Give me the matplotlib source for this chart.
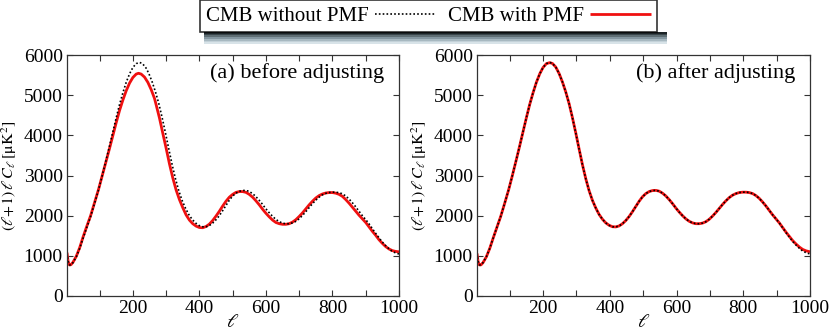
"""
CMB TT spectrum with / without PMF, before and after adjusting
"""

import matplotlib
matplotlib.use('Agg')
import matplotlib.pyplot as plt
from matplotlib.patches import Rectangle
from matplotlib.ticker import MultipleLocator

plt.rcParams['font.family'] = ['Liberation Serif', 'DejaVu Serif']
plt.rcParams['mathtext.fontset'] = 'stix'

# CMB without PMF (black dotted, same in both panels)
ell_no_pmf = [2, 5, 8, 10, 14, 20, 30, 40, 50, 60, 73, 85, 97, 108, 120, 130, 140,
              150, 160, 170, 180, 190, 200, 210, 220, 228, 238, 248, 258, 268, 278,
              288, 298, 308, 318, 328, 338, 348, 358, 368, 378, 388, 398, 408, 418,
              428, 438, 448, 458, 468, 478, 488, 498, 508, 518, 528, 538, 548, 558,
              568, 578, 588, 598, 608, 618, 628, 638, 648, 658, 668, 678, 688, 698,
              708, 718, 728, 738, 748, 758, 768, 778, 788, 798, 808, 818, 828, 838,
              848, 858, 868, 878, 888, 898, 908, 918, 928, 938, 948, 958, 968, 978,
              988, 1000]
cl_no_pmf = [1060, 870, 785, 772, 775, 830, 975, 1180, 1430, 1670, 1980, 2310, 2650,
             3000, 3400, 3740, 4090, 4440, 4770, 5060, 5320, 5530, 5690, 5785, 5815,
             5790, 5700, 5540, 5330, 5080, 4790, 4440, 4060, 3660, 3270, 2920, 2620,
             2380, 2190, 2030, 1910, 1820, 1760, 1725, 1720, 1745, 1800, 1880, 1980,
             2100, 2230, 2360, 2470, 2550, 2600, 2625, 2630, 2610, 2560, 2490, 2400,
             2300, 2190, 2090, 2000, 1920, 1860, 1820, 1800, 1800, 1815, 1850, 1910,
             1990, 2080, 2180, 2280, 2370, 2450, 2510, 2550, 2575, 2585, 2585, 2575,
             2550, 2500, 2430, 2340, 2240, 2130, 2020, 1920, 1820, 1700, 1580, 1470,
             1360, 1270, 1190, 1120, 1080, 1045]

# CMB with PMF, before adjusting (red, panel a)
ell_pmf = [2, 5, 8, 10, 14, 20, 30, 40, 50, 60, 73, 85, 97, 108, 120, 130, 140, 150,
           160, 170, 180, 190, 200, 210, 217, 225, 235, 245, 255, 265, 270, 280, 290,
           300, 310, 320, 330, 340, 350, 360, 370, 380, 390, 400, 410, 420, 430, 440,
           450, 460, 470, 480, 490, 500, 510, 520, 530, 540, 550, 560, 570, 580, 590,
           600, 610, 620, 630, 640, 650, 660, 670, 680, 690, 700, 710, 720, 730, 740,
           750, 760, 770, 780, 790, 800, 810, 820, 830, 840, 850, 860, 870, 880, 890,
           900, 910, 920, 930, 940, 950, 960, 970, 980, 990, 1000]
cl_pmf = [1080, 880, 790, 772, 780, 840, 990, 1200, 1460, 1700, 2000, 2330, 2660,
          3000, 3370, 3680, 4000, 4320, 4620, 4880, 5110, 5300, 5440, 5525, 5545,
          5525, 5450, 5320, 5140, 4920, 4760, 4430, 4050, 3680, 3290, 2940, 2640,
          2400, 2200, 2020, 1890, 1800, 1740, 1705, 1700, 1730, 1790, 1880, 1990,
          2110, 2240, 2360, 2460, 2530, 2580, 2600, 2600, 2580, 2530, 2460, 2370,
          2270, 2160, 2060, 1970, 1890, 1830, 1800, 1785, 1785, 1800, 1840, 1900,
          1980, 2070, 2170, 2270, 2360, 2440, 2500, 2540, 2565, 2575, 2575, 2560,
          2530, 2480, 2400, 2310, 2210, 2110, 2010, 1920, 1830, 1720, 1610, 1510,
          1400, 1310, 1230, 1170, 1130, 1110, 1100]

# CMB with PMF, after adjusting (red, panel b)
ell_adj = ell_no_pmf
cl_adj = [1060, 870, 785, 772, 775, 830, 975, 1180, 1430, 1670, 1980, 2310, 2650,
          3000, 3400, 3740, 4090, 4440, 4770, 5060, 5320, 5530, 5690, 5785, 5810,
          5790, 5700, 5540, 5330, 5080, 4790, 4440, 4060, 3660, 3270, 2920, 2620,
          2380, 2190, 2030, 1910, 1820, 1760, 1725, 1720, 1745, 1800, 1880, 1980,
          2100, 2230, 2360, 2470, 2550, 2600, 2625, 2630, 2610, 2560, 2490, 2400,
          2300, 2190, 2090, 2000, 1920, 1860, 1820, 1800, 1800, 1815, 1850, 1910,
          1990, 2080, 2180, 2280, 2370, 2450, 2510, 2550, 2575, 2585, 2585, 2575,
          2550, 2500, 2430, 2340, 2240, 2130, 2020, 1920, 1820, 1705, 1590, 1485,
          1380, 1295, 1220, 1160, 1125, 1100]

panel_titles = ['(a) before adjusting', '(b) after adjusting']
y_ticks = [0, 1000, 2000, 3000, 4000, 5000, 6000]

W, H = 831, 330
fig = plt.figure(figsize=(W / 100, H / 100), dpi=100)
ax_a = fig.add_axes([67 / W, 1 - 296 / H, 332 / W, 241 / H])
ax_b = fig.add_axes([477 / W, 1 - 296 / H, 333 / W, 241 / H])

red_kw = dict(color='#f01010', lw=2.0, solid_capstyle='butt')
blk_kw = dict(color='black', lw=1.2, ls=(0, (1.0, 1.3)))

ax_a.plot(ell_pmf, cl_pmf, **red_kw)
ax_a.plot(ell_no_pmf, cl_no_pmf, **blk_kw)
ax_b.plot(ell_adj, cl_adj, **red_kw)
ax_b.plot(ell_no_pmf, cl_no_pmf, **blk_kw)

for ax, title in zip([ax_a, ax_b], panel_titles):
    ax.set_xlim(2, 1000)
    ax.set_ylim(0, 6000)
    ax.xaxis.set_major_locator(MultipleLocator(200))
    ax.xaxis.set_minor_locator(MultipleLocator(100))
    ax.set_yticks(y_ticks)
    ax.tick_params(which='both', direction='in', top=True, right=True,
                   length=4, width=0.8, color='#333333', labelsize=14, pad=3)
    for sp in ax.spines.values():
        sp.set_color('#333333')
        sp.set_linewidth(0.9)
    ax.set_xlabel(r'$\ell$', fontsize=14, labelpad=-2)
    ax.set_ylabel(r'$(\ell\!+\!1)\,\ell\,C_\ell\,[\mathrm{\mu K}^2]$', fontsize=11.5)
    ax.yaxis.set_label_coords(-0.145, 0.5)
    ax.text(0.955, 0.925, title, transform=ax.transAxes, ha='right', va='center',
            fontsize=16)

# legend on top with a shadow underneath
h_no = ax_a.lines[1]
h_pmf = ax_a.lines[0]
leg = fig.legend([h_no, h_pmf], ['CMB without PMF', 'CMB with PMF'],
                 loc='upper left', bbox_to_anchor=(200 / W, 1.0), ncol=2,
                 markerfirst=False, fontsize=15, frameon=True, fancybox=False,
                 handlelength=2.9, handletextpad=0.3, columnspacing=0.6,
                 borderpad=0.3, borderaxespad=0.0)
leg.get_frame().set_edgecolor('black')
leg.get_frame().set_linewidth(1.2)

fig.canvas.draw()
bb = leg.get_window_extent()
x0, x1, yb = bb.x0 / W, bb.x1 / W, bb.y0 / H
shade = ['#1c2326', '#3a464b', '#5f6e74', '#8496a0', '#a7b8c0', '#c3d1d8', '#d8e3e8']
for i, c in enumerate(shade):
    fig.add_artist(Rectangle((x0 + 4 / W, yb - (i + 1) * 1.7 / H),
                             (x1 - x0) + 6 / W, 1.7 / H, transform=fig.transFigure,
                             facecolor=c, edgecolor='none', zorder=0))

fig.savefig('out.png', dpi=100, facecolor='white')
